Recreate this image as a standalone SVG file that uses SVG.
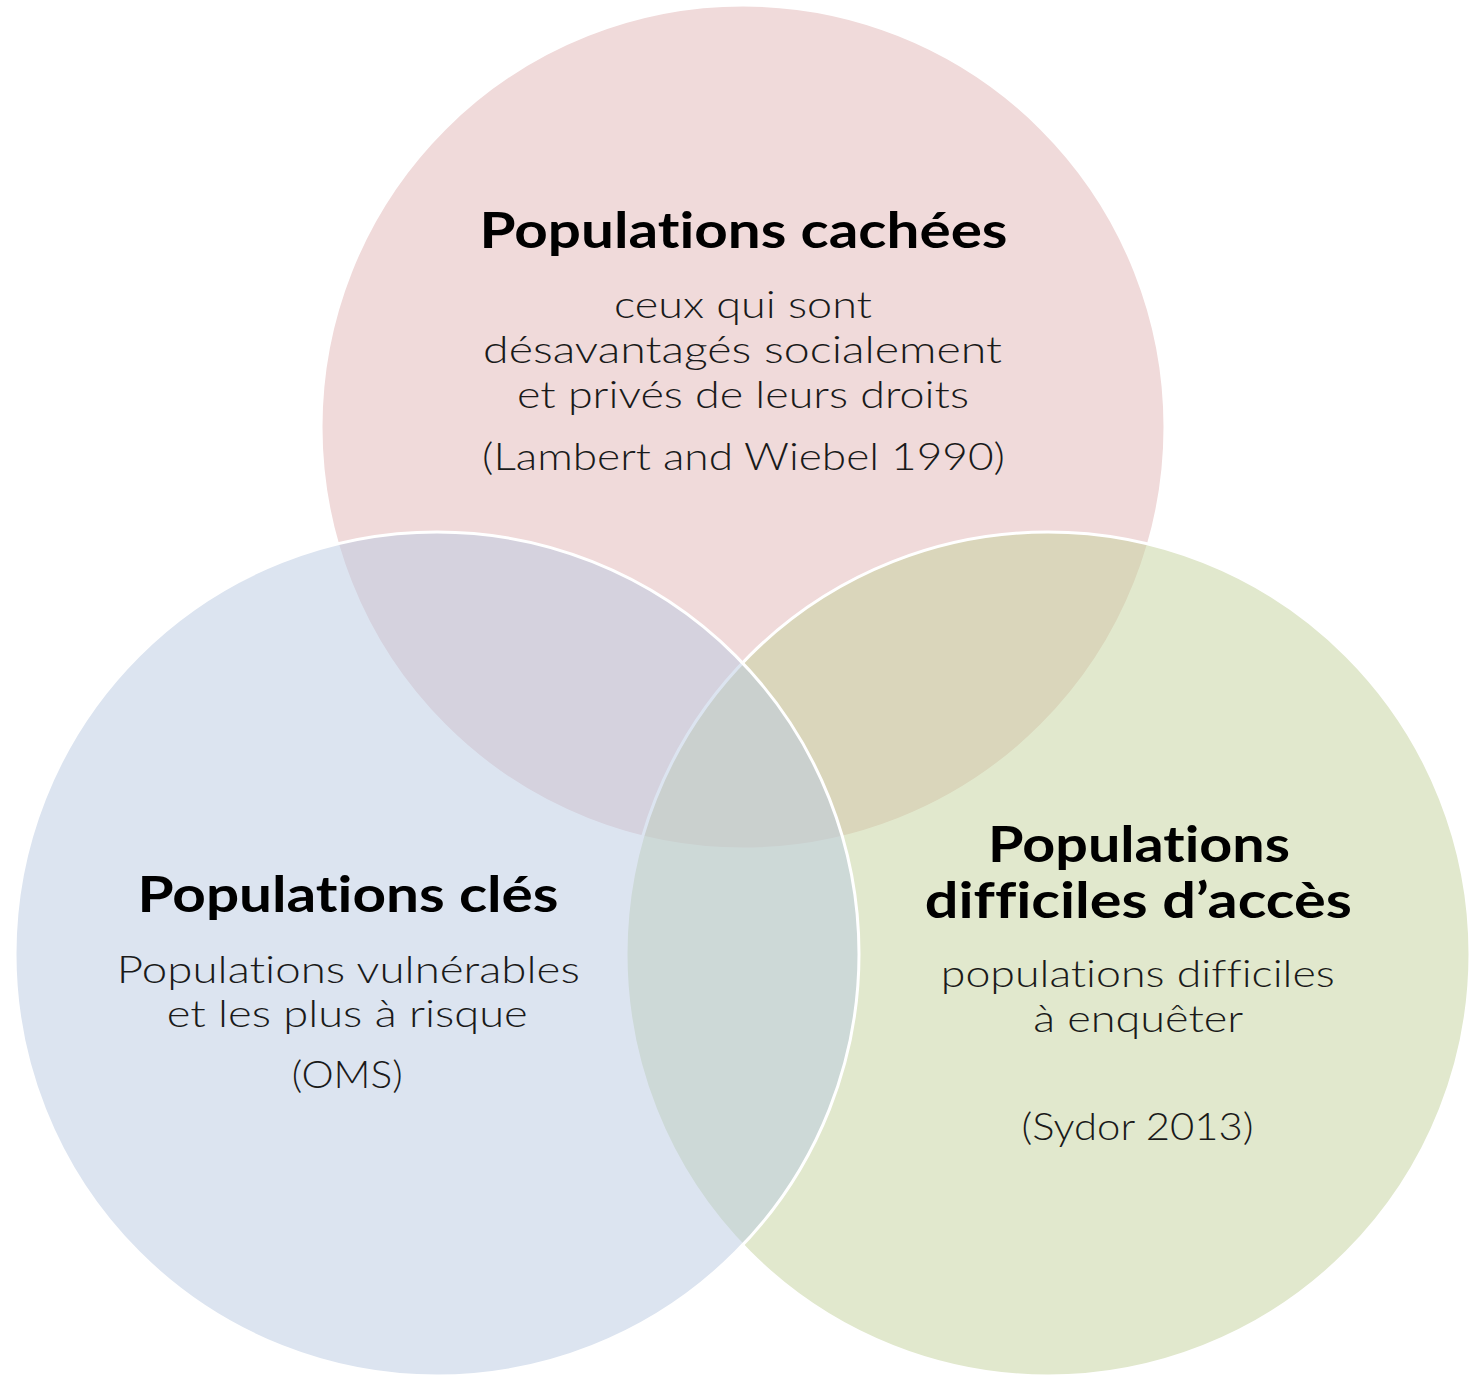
<svg xmlns="http://www.w3.org/2000/svg" width="1473" height="1376" viewBox="0 0 1473 1376">
<style>
.c{stroke:#ffffff;stroke-width:3;fill-opacity:0.5}
.t{font-family:Lato,"Liberation Sans",sans-serif;font-weight:700;font-size:49px;fill:#000;text-anchor:middle;font-variant-ligatures:none}
.b{font-family:Lato,"Liberation Sans",sans-serif;font-weight:300;font-size:38px;fill:#1a1a1a;text-anchor:middle;font-variant-ligatures:none}
</style>
<rect width="1473" height="1376" fill="#ffffff"/>
<g id="node-cachees">
<circle class="c" cx="743" cy="427" r="422" fill="#E1B5B5"/>
</g>
<g id="node-difficiles">
<circle class="c" cx="1048" cy="954" r="422" fill="#C3D19B"/>
</g>
<g id="node-cles">
<circle class="c" cx="437" cy="954" r="422" fill="#B9C9E1"/>
</g>
<g id="connectors"></g>
<g id="labels-cachees">
<text class="t" x="743.5" y="248" textLength="528" lengthAdjust="spacingAndGlyphs">Populations cachées</text>
<text class="b" x="743" y="317.5" textLength="258" lengthAdjust="spacingAndGlyphs">ceux qui sont</text>
<text class="b" x="742.5" y="362.5" textLength="519" lengthAdjust="spacingAndGlyphs">désavantagés socialement</text>
<text class="b" x="743" y="407.5" textLength="452" lengthAdjust="spacingAndGlyphs">et privés de leurs droits</text>
<text class="b" x="743.5" y="470" textLength="523" lengthAdjust="spacingAndGlyphs">(Lambert and Wiebel 1990)</text>
</g>
<g id="labels-cles">
<text class="t" x="348" y="912" textLength="421" lengthAdjust="spacingAndGlyphs">Populations clés</text>
<text class="b" x="348.3" y="982.5" textLength="463" lengthAdjust="spacingAndGlyphs">Populations vulnérables</text>
<text class="b" x="347.2" y="1027.3" textLength="361" lengthAdjust="spacingAndGlyphs">et les plus à risque</text>
<text class="b" x="347.3" y="1088" textLength="111" lengthAdjust="spacingAndGlyphs">(OMS)</text>
</g>
<g id="labels-difficiles">
<text class="t" x="1139" y="862" textLength="302" lengthAdjust="spacingAndGlyphs">Populations</text>
<text class="t" x="1138.3" y="917.5" textLength="427" lengthAdjust="spacingAndGlyphs">difficiles d’accès</text>
<text class="b" x="1137.8" y="986.5" textLength="394" lengthAdjust="spacingAndGlyphs">populations difficiles</text>
<text class="b" x="1138.2" y="1031.5" textLength="210" lengthAdjust="spacingAndGlyphs">à enquêter</text>
<text class="b" x="1137.5" y="1140" textLength="232" lengthAdjust="spacingAndGlyphs">(Sydor 2013)</text>
</g>
</svg>
